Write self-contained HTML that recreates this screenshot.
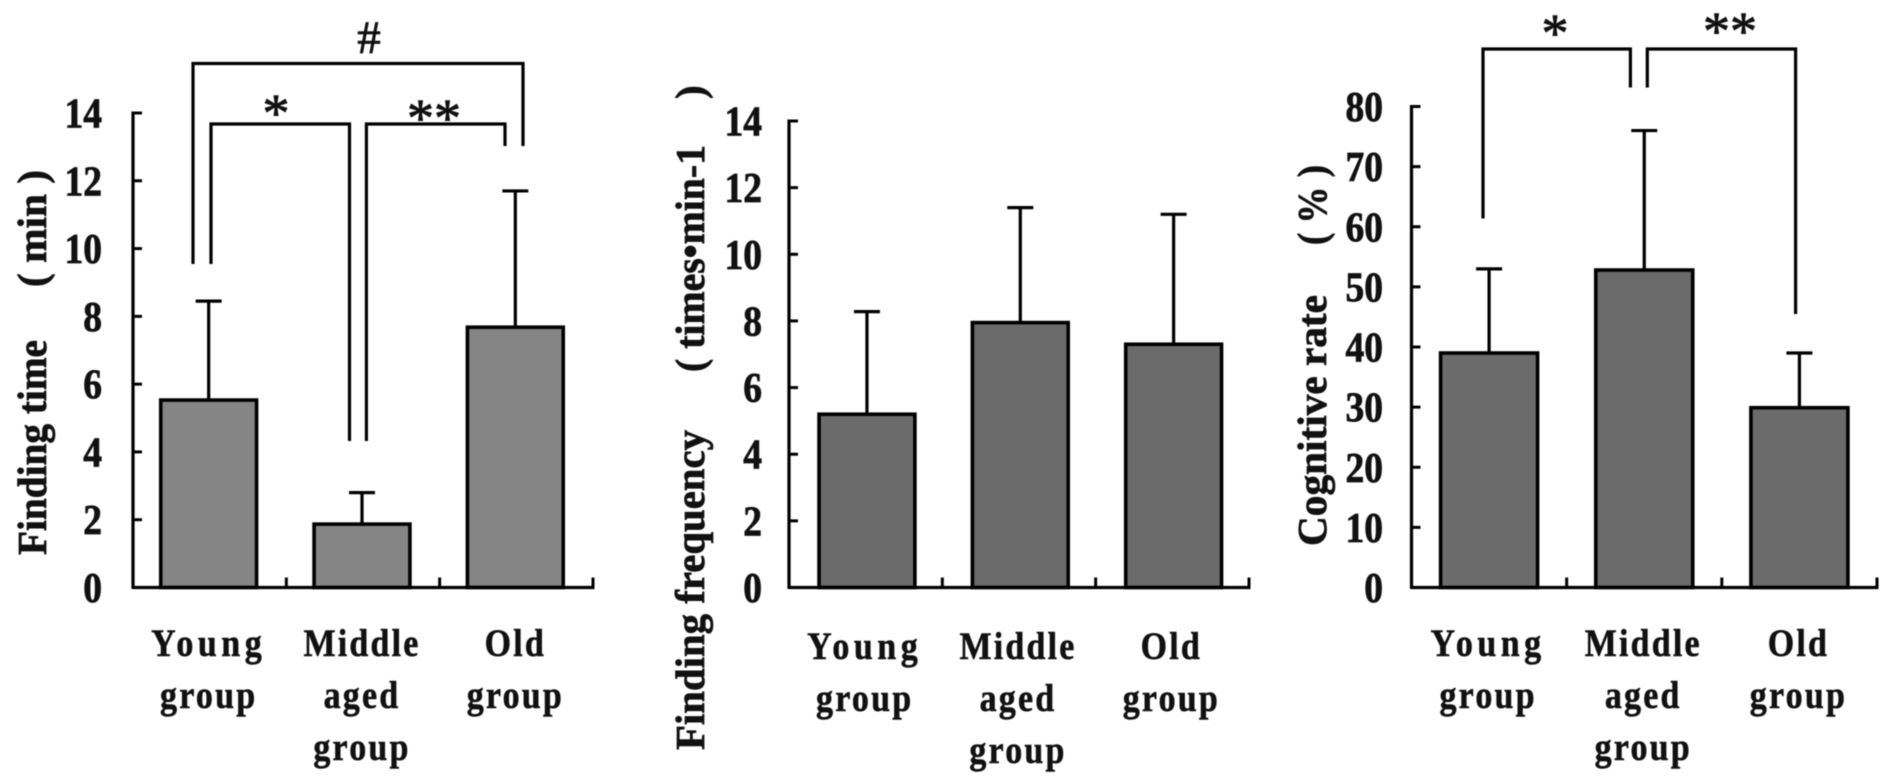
<!DOCTYPE html>
<html lang="en">
<head>
<meta charset="utf-8">
<title>Finding time, finding frequency and cognitive rate by age group</title>
<style>
  html, body { margin: 0; padding: 0; background: #fff; }
  #figure { display: block; width: 1890px; height: 783px; background: #fff; filter: blur(0.5px); }
  text { font-family: "Liberation Serif", "DejaVu Serif", serif; fill: #111; }
  .title { font-weight: bold; font-size: 41px; stroke: #111; stroke-width: 0.7; }
  .sig { font-size: 54px; stroke: #111; stroke-width: 0.9; }
  .ln { fill: none; stroke: #000; stroke-width: 3.2; }
</style>
</head>
<body>
<svg id="figure" xmlns="http://www.w3.org/2000/svg" width="1890" height="783" viewBox="0 0 1890 783">
  <g id="panel-time">
    <text class="title" transform="translate(46,555) rotate(-90)" textLength="215" lengthAdjust="spacingAndGlyphs">Finding time</text>
    <text class="title" transform="translate(46,287) rotate(-90)" textLength="117" lengthAdjust="spacingAndGlyphs">( min )</text>
    <path class="ln" d="M193 264V63.5H523V146"/>
    <path class="ln" d="M211 264V124H349.5V441"/>
    <path class="ln" d="M366.4 441V124H505V146"/>
    <text x="369" y="53" text-anchor="middle" style="font-size:47px;stroke:#111;stroke-width:0.8">#</text>
    <text class="sig" x="276" y="131" text-anchor="middle">*</text>
    <text class="sig" x="434" y="136" text-anchor="middle">**</text>
  </g>
  <g id="panel-frequency">
    <text class="title" transform="translate(704,750) rotate(-90)" textLength="320" lengthAdjust="spacingAndGlyphs">Finding frequency</text>
    <text class="title" transform="translate(704,372) rotate(-90)" textLength="227" lengthAdjust="spacingAndGlyphs">( times•min-1</text>
    <text class="title" transform="translate(704,99) rotate(-90)">)</text>
  </g>
  <g id="panel-cognitive">
    <text class="title" transform="translate(1326,546) rotate(-90)" textLength="251" lengthAdjust="spacingAndGlyphs">Cognitive rate</text>
    <text class="title" transform="translate(1326,245) rotate(-90)" textLength="80" lengthAdjust="spacingAndGlyphs">( % )</text>
    <path class="ln" d="M1483 218.5V49H1630.4V87.5"/>
    <path class="ln" d="M1647.3 87.5V49H1795.6V314"/>
    <text class="sig" x="1555" y="51" text-anchor="middle">*</text>
    <text class="sig" x="1730" y="49" text-anchor="middle">**</text>
  </g>
</svg>
<script>
// Shared category labels
const categories = ["Young group", "Middle aged group", "Old group"];

// Finding time (min)
const timeValues = [5.53, 1.87, 7.68];
const timeErrors = [2.92, 0.93, 4.02];
const timeTicks = [0, 2, 4, 6, 8, 10, 12, 14];

// Finding frequency (times per min)
const frequencyValues = [5.2, 7.95, 7.3];
const frequencyErrors = [3.08, 3.45, 3.9];
const frequencyTicks = [0, 2, 4, 6, 8, 10, 12, 14];

// Cognitive rate (%)
const cognitiveValues = [39, 52.8, 29.9];
const cognitiveErrors = [14, 23.2, 9.1];
const cognitiveTicks = [0, 10, 20, 30, 40, 50, 60, 70, 80];

const SVG_NS = "http://www.w3.org/2000/svg";

function mk(tag, attrs, parent) {
  const el = document.createElementNS(SVG_NS, tag);
  for (const k in attrs) el.setAttribute(k, attrs[k]);
  parent.appendChild(el);
  return el;
}

function drawPanel(cfg) {
  const parent = document.getElementById(cfg.id);
  const yMax = cfg.ticks[cfg.ticks.length - 1];
  const yScale = v => cfg.bottom - (v / yMax) * (cfg.bottom - cfg.top);
  const bandWidth = (cfg.right - cfg.left) / cfg.values.length;
  const xCenter = i => cfg.left + (i + 0.5) * bandWidth + cfg.shift;
  const barWidth = bandWidth * 0.625;
  const capWidth = 26;

  cfg.values.forEach((value, i) => {
    const cx = xCenter(i);
    const errTop = yScale(value + cfg.errors[i]);

    const stem = mk("line", { x1: cx, x2: cx, y1: yScale(value), y2: errTop, stroke: "#000", "stroke-width": 3.2 }, parent);
    
    

    const cap = mk("line", { x1: cx - capWidth / 2, x2: cx + capWidth / 2, y1: errTop, y2: errTop, stroke: "#000", "stroke-width": 3.2 }, parent);
    
    

    const bar = mk("rect", { x: cx - barWidth / 2, y: yScale(value), width: barWidth, height: cfg.bottom - yScale(value), fill: cfg.fill, stroke: "#000", "stroke-width": 3.6 }, parent);
    
    
  });

  const yAxis = mk("line", { x1: cfg.left, x2: cfg.left, y1: cfg.top - 1.5, y2: cfg.bottom + 1.5, stroke: "#000", "stroke-width": 3.2 }, parent);
  
  

  const xAxis = mk("line", { x1: cfg.left, x2: cfg.right + 1.5, y1: cfg.bottom, y2: cfg.bottom, stroke: "#000", "stroke-width": 3.2 }, parent);
  
  

  cfg.ticks.forEach(tick => {
    const y = yScale(tick);
    if (tick !== 0) {
      const mark = mk("line", { x1: cfg.left, x2: cfg.left + 9, y1: y, y2: y, stroke: "#000", "stroke-width": 3 }, parent);
      
      
    }
    const label = mk("text", { "text-anchor": "end", transform: `translate(${cfg.labelRight},${y + 14.5}) scale(1,1.14)`, "font-size": 37.5, "font-weight": "bold", stroke: "#111", "stroke-width": 0.7 }, parent);
    
    
    label.textContent = tick;
  });

  categories.forEach((category, i) => {
    const boundary = cfg.left + (i + 1) * bandWidth;
    const mark = mk("line", { x1: boundary, x2: boundary, y1: cfg.bottom, y2: cfg.bottom - 10, stroke: "#000", "stroke-width": 3 }, parent);
    
    

    category.split(" ").forEach((word, line) => {
      const cx = cfg.left + (i + 0.5) * bandWidth;
      const spacing = word === "Young" ? 4.5 : 2.2;
      const label = mk("text", { "text-anchor": "middle", transform: `translate(${cx - 1},${cfg.labelBase + line * 52}) scale(1,1.16)`, "font-size": 34, "font-weight": "bold", "letter-spacing": spacing, stroke: "#111", "stroke-width": 0.5 }, parent);
      
      
      label.textContent = word;
    });
  });
}

drawPanel({ id: "panel-time", values: timeValues, errors: timeErrors, ticks: timeTicks, fill: "#858585",
  left: 133, right: 593, top: 113, bottom: 587.5, shift: -1, labelRight: 102, labelBase: 656 });
drawPanel({ id: "panel-frequency", values: frequencyValues, errors: frequencyErrors, ticks: frequencyTicks, fill: "#6b6b6b",
  left: 789, right: 1249, top: 121, bottom: 587.5, shift: 1.3, labelRight: 762, labelBase: 659 });
drawPanel({ id: "panel-cognitive", values: cognitiveValues, errors: cognitiveErrors, ticks: cognitiveTicks, fill: "#6b6b6b",
  left: 1411.5, right: 1877, top: 106.5, bottom: 587.5, shift: 0, labelRight: 1383, labelBase: 656 });
</script>
</body>
</html>
